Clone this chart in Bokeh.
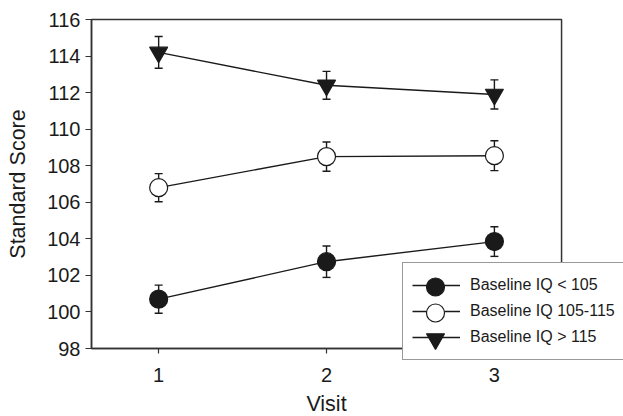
from bokeh.plotting import figure
from bokeh.models import (ColumnDataSource, Whisker, Legend, LegendItem, Range1d,
                          FixedTicker, BoxAnnotation)
from bokeh.embed import file_html
from bokeh.resources import INLINE

visits = [1, 2, 3]
x_ticks = [1, 2, 3]
y_ticks = [98, 100, 102, 104, 106, 108, 110, 112, 114, 116]

low_mean = [100.7, 102.75, 103.85]
low_err = [0.77, 0.86, 0.81]
mid_mean = [106.8, 108.5, 108.55]
mid_err = [0.77, 0.8, 0.82]
high_mean = [114.2, 112.4, 111.9]
high_err = [0.87, 0.76, 0.8]

labels = ["Baseline IQ < 105", "Baseline IQ 105-115", "Baseline IQ > 115"]

FONT = "Liberation Sans"
INK = "#1a1a1a"
FRAME = "#333333"

# the frame covers the whole figure; axes are pinned at x=0.6 and y=98 so that
# the legend may overlap the box edges without being clipped
p = figure(width=623, height=416, output_backend="svg", toolbar_location=None,
           x_range=Range1d(0.0579, 3.769), y_range=Range1d(94.28, 117.04),
           min_border_left=0, min_border_right=0, min_border_top=0, min_border_bottom=0)
p.grid.visible = False
p.outline_line_color = None

for ax in (p.xaxis[0], p.yaxis[0]):
    ax.axis_line_color = FRAME
    ax.axis_line_width = 1.5
    ax.major_tick_line_color = FRAME
    ax.major_tick_line_width = 1.2
    ax.minor_tick_line_color = None
    ax.major_tick_in = 0
    ax.major_label_text_font = FONT
    ax.major_label_text_font_size = "20px"
    ax.major_label_text_color = INK
    ax.axis_label_text_font = FONT
    ax.axis_label_text_font_size = "21.5px"
    ax.axis_label_text_font_style = "normal"
    ax.axis_label_text_color = INK

p.xaxis.ticker = FixedTicker(ticks=x_ticks)
p.yaxis.ticker = FixedTicker(ticks=y_ticks)
p.xaxis.fixed_location = 98
p.yaxis.fixed_location = 0.6
p.xaxis.bounds = (0.6, 3.4)
p.yaxis.bounds = (98, 116)
p.xaxis.major_tick_out = 5
p.yaxis.major_tick_out = 6
p.xaxis.major_label_standoff = 14
p.yaxis.major_label_standoff = 5
p.xaxis.axis_label = "Visit"
p.yaxis.axis_label = "Standard Score"
p.xaxis.axis_label_standoff = 7
p.yaxis.axis_label_standoff = 14

p.add_layout(BoxAnnotation(left=0.6, right=3.4, bottom=98, top=116,
                           fill_alpha=0, line_color=FRAME, line_alpha=1.0, line_width=1.5))

series = [
    (low_mean, low_err, "circle", INK, labels[0]),
    (mid_mean, mid_err, "circle", "white", labels[1]),
    (high_mean, high_err, "inverted_triangle", INK, labels[2]),
]

line_items = []
marker_rs = []
for mean, err, marker, fill, label in series:
    src = ColumnDataSource(dict(x=visits, y=mean,
                                lo=[m - e for m, e in zip(mean, err)],
                                hi=[m + e for m, e in zip(mean, err)]))
    w = Whisker(source=src, base="x", lower="lo", upper="hi", level="underlay",
                line_color=INK, line_width=1.4)
    for h in (w.upper_head, w.lower_head):
        h.size = 8
        h.line_color = INK
        h.line_width = 1.4
    p.add_layout(w)
    ln = p.line("x", "y", source=src, line_color=INK, line_width=1.4)
    mk = p.scatter("x", "y", source=src, marker=marker, size=18,
                   fill_color=fill, line_color=INK, line_width=1.2)
    line_items.append(LegendItem(label=label, renderers=[ln]))
    marker_rs.append(mk)

legend = Legend(items=line_items, location=(402, 56),
                label_text_font=FONT, label_text_font_size="16px", label_text_color=INK,
                glyph_width=48, glyph_height=26, label_height=26, spacing=0,
                padding=9, label_standoff=10, margin=0,
                border_line_color=FRAME, border_line_width=1.5,
                background_fill_color="white", background_fill_alpha=1.0)
p.add_layout(legend, "center")

# full-size legend markers, one small borderless legend per row
for mk, y_off in zip(marker_rs, [107, 81, 55]):
    ml = Legend(items=[LegendItem(label=" ", renderers=[mk])], location=(411, y_off),
                glyph_width=48, glyph_height=45, label_height=20, padding=0, margin=0,
                label_standoff=0, label_text_font_size="4px",
                border_line_color=None, background_fill_alpha=0)
    p.add_layout(ml, "center")

open("out.html", "w").write(file_html(p, INLINE))
